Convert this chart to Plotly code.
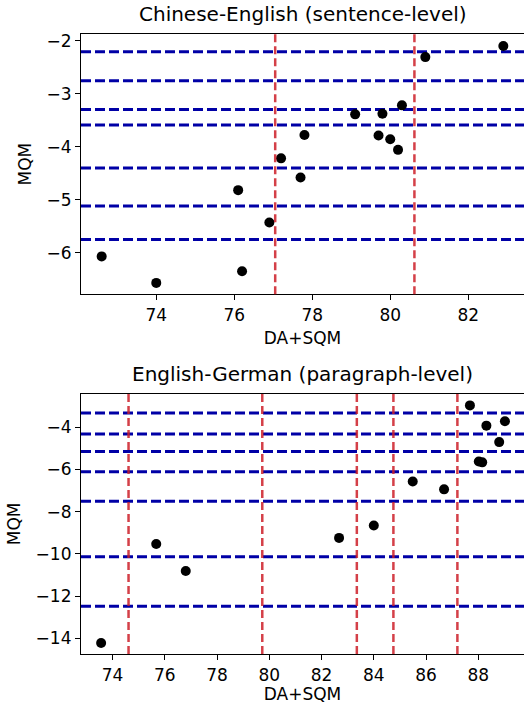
import plotly.graph_objects as go

# ---- Data: Chinese-English (sentence-level) ----
zh_en_da_sqm = [82.9, 80.9, 80.3, 79.1, 79.8, 77.8, 79.7, 80.0, 80.2, 77.2,
                77.7, 76.1, 76.9, 72.6, 76.2, 74.0]
zh_en_mqm = [-2.10, -2.31, -3.22, -3.39, -3.38, -3.78, -3.79, -3.86, -4.06, -4.22,
             -4.58, -4.82, -5.43, -6.07, -6.35, -6.57]
zh_en_vlines = [77.05, 80.62]
zh_en_hlines = [-2.21, -2.755, -3.30, -3.59, -4.40, -5.12, -5.75]

# ---- Data: English-German (paragraph-level) ----
en_de_da_sqm = [87.68, 88.31, 89.02, 88.80, 88.02, 88.15, 85.49, 86.69, 84.0,
                82.67, 75.67, 76.8, 73.56]
en_de_mqm = [-2.96, -3.92, -3.71, -4.70, -5.62, -5.66, -6.57, -6.94, -8.65,
             -9.24, -9.53, -10.81, -14.22]
en_de_vlines = [74.61, 79.73, 83.35, 84.75, 87.2]
en_de_hlines = [-3.32, -4.32, -5.14, -6.11, -7.50, -10.14, -12.48]

titles = ["Chinese-English (sentence-level)", "English-German (paragraph-level)"]
x_label = "DA+SQM"
y_label = "MQM"
top_xticks = [74, 76, 78, 80, 82]
top_yticks = [-2, -3, -4, -5, -6]
bot_xticks = [74, 76, 78, 80, 82, 84, 86, 88]
bot_yticks = [-4, -6, -8, -10, -12, -14]

FONT = "DejaVu Sans"
BLUE = "#0000a6"
RED = "rgba(204,30,40,0.85)"

fig = go.Figure()
fig.add_trace(go.Scatter(x=zh_en_da_sqm, y=zh_en_mqm, mode="markers",
                         marker=dict(color="black", size=10), xaxis="x", yaxis="y",
                         showlegend=False))
fig.add_trace(go.Scatter(x=en_de_da_sqm, y=en_de_mqm, mode="markers",
                         marker=dict(color="black", size=10), xaxis="x2", yaxis="y2",
                         showlegend=False))

shapes = []
def add_lines(vlines, hlines, xr, yr):
    for h in hlines:
        shapes.append(dict(type="line", xref=xr + " domain", yref=yr, x0=0, x1=1, y0=h, y1=h,
                           line=dict(color=BLUE, width=3, dash="10px,4px"), layer="below"))
    for v in vlines:
        shapes.append(dict(type="line", xref=xr, yref=yr + " domain", x0=v, x1=v, y0=0, y1=1,
                           line=dict(color=RED, width=2.5, dash="8px,4px"), layer="above"))

add_lines(zh_en_vlines, zh_en_hlines, "x", "y")
add_lines(en_de_vlines, en_de_hlines, "x2", "y2")

# plot area: top y 34..294.3, bottom y 393.7..653.7
H = 704
t_m, b_m = 34, 50
ph = H - t_m - b_m
top_dom = [(H - b_m - 294.3) / ph, 1.0]
bot_dom = [0.0, (H - b_m - 393.7) / ph]

TICK = 17
axis_common = dict(showgrid=False, zeroline=False, showline=True, linecolor="black",
                   linewidth=1.2, ticks="outside", ticklen=5, tickwidth=1.2,
                   tickcolor="black", automargin=False,
                   tickfont=dict(family=FONT, size=TICK, color="black"))

fig.update_layout(
    width=524, height=704,
    margin=dict(l=81, r=0, t=t_m, b=b_m),
    plot_bgcolor="white", paper_bgcolor="white",
    font=dict(family=FONT, color="black"),
    shapes=shapes,
    xaxis=dict(domain=[0, 1], anchor="y", range=[72.07, 83.43], tickvals=top_xticks,
               mirror=True, title=dict(text=x_label, font=dict(size=TICK), standoff=8),
               **axis_common),
    yaxis=dict(domain=top_dom, anchor="x", range=[-6.785, -1.874], tickvals=top_yticks,
               title=dict(text=y_label, font=dict(size=TICK), standoff=10),
               **axis_common),
    xaxis2=dict(domain=[0, 1], anchor="y2", range=[72.79, 89.75], tickvals=bot_xticks,
                mirror=True, title=dict(text=x_label, font=dict(size=TICK), standoff=7),
                **axis_common),
    yaxis2=dict(domain=bot_dom, anchor="x2", range=[-14.745, -2.405], tickvals=bot_yticks,
                title=dict(text=y_label, font=dict(size=TICK), standoff=10),
                **axis_common),
    annotations=[
        dict(text=titles[0], xref="paper", yref="paper", x=0.5, y=top_dom[1],
             xanchor="center", yanchor="bottom", yshift=6, showarrow=False,
             font=dict(family=FONT, size=20, color="black")),
        dict(text=titles[1], xref="paper", yref="paper", x=0.5, y=bot_dom[1],
             xanchor="center", yanchor="bottom", yshift=6, showarrow=False,
             font=dict(family=FONT, size=20, color="black")),
    ],
)

fig.write_html("out.html", config={"displayModeBar": False},
               post_script="document.body.style.margin='0';document.body.style.overflow='hidden';")
